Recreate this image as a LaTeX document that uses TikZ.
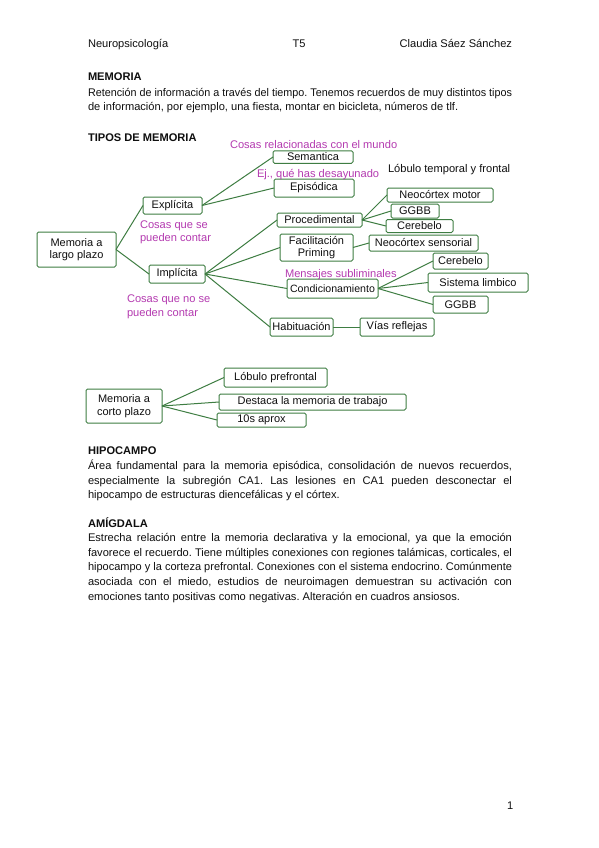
\documentclass[tikz,border=0pt]{standalone}
\usepackage{fontspec}
\usepackage{graphicx}
\setmainfont{Liberation Sans}
\definecolor{boxgreen}{RGB}{62,125,66}
\definecolor{labmag}{RGB}{180,58,176}
\definecolor{txt}{RGB}{15,15,15}
\newsavebox{\jlbox}
\newcommand{\jline}[1]{\sbox{\jlbox}{#1}\ifdim\wd\jlbox>424pt\resizebox{424pt}{\height}{\usebox{\jlbox}}\else\makebox[424pt][s]{#1}\fi}
\begin{document}
\frenchspacing
\begin{tikzpicture}[x=1pt,y=-1pt,
  every node/.style={inner sep=0pt,outer sep=0pt,text=txt},
  txtline/.style={anchor=base west,font=\fontsize{11.1}{12}\selectfont},
  head/.style={anchor=base west,font=\fontsize{11.1}{12}\selectfont\bfseries},
  box/.style={draw=boxgreen,line width=1pt,rounded corners=1.5pt,align=center,font=\fontsize{11}{12.5}\selectfont,inner sep=0pt},
  lab/.style={anchor=base west,text=labmag,font=\fontsize{11.1}{13}\selectfont,align=left},
  con/.style={draw=boxgreen,line width=1pt}]
\useasboundingbox (0,0) rectangle (599,848);
\fill[white] (0,0) rectangle (599,848);
% header
\node[txtline] (h1) at (88,48) {Neuropsicología};
\node[txtline,anchor=base] (h2) at (299,48) {T5};
\node[txtline,anchor=base east] (h3) at (512,48) {Claudia Sáez Sánchez};
% MEMORIA
\node[head] (m0) at (88,81) {MEMORIA};
\node[txtline] (m1) at (88,96) {\jline{Retención de información a través del tiempo. Tenemos recuerdos de muy distintos tipos}};
\node[txtline] (m2) at (88,111) {de información, por ejemplo, una fiesta, montar en bicicleta, números de tlf.};
\node[head] (t0) at (88,141) {TIPOS DE MEMORIA};
% diagram boxes
\node[box,minimum width=79pt,minimum height=35pt] (lp) at (76.5,249.5) {Memoria a\\largo plazo};
\node[box,minimum width=59pt,minimum height=17pt] (ex) at (172.5,205.5) {Explícita};
\node[box,minimum width=56pt,minimum height=18pt] (im) at (177,274) {Implícita};
\node[box,minimum width=80pt,minimum height=12.5pt] (se) at (313,157) {Semantica};
\node[box,minimum width=80pt,minimum height=18pt] (ep) at (314,188) {Episódica};
\node[box,minimum width=85pt,minimum height=14pt] (pr) at (319.5,220) {Procedimental};
\node[box,minimum width=73pt,minimum height=27pt,font=\fontsize{11}{11.5}\selectfont] (fa) at (316.5,247.5) {Facilitación\\Priming};
\node[box,minimum width=91pt,minimum height=19pt,font=\fontsize{10.6}{12}\selectfont] (co) at (332.5,288.5) {Condicionamiento};
\node[box,minimum width=63pt,minimum height=18pt] (ha) at (301.5,327) {Habituación};
\node[box,minimum width=106pt,minimum height=14pt] (nm) at (440,195) {Neocórtex motor};
\node[box,minimum width=48pt,minimum height=14pt] (g1) at (415,211) {GGBB};
\node[box,minimum width=67pt,minimum height=13pt] (c1) at (419.5,226) {Cerebelo};
\node[box,minimum width=109pt,minimum height=16pt] (ns) at (423.5,243) {Neocórtex sensorial};
\node[box,minimum width=55pt,minimum height=16pt] (c2) at (460.5,261) {Cerebelo};
\node[box,minimum width=100pt,minimum height=19pt] (sl) at (478,282.5) {Sistema limbico};
\node[box,minimum width=55pt,minimum height=17pt] (g2) at (460.5,304.5) {GGBB};
\node[box,minimum width=74pt,minimum height=18pt] (vr) at (397,327) {Vías reflejas};
% labels
\node[lab] (l1) at (230,148) {Cosas relacionadas con el mundo};
\node[lab] (l2) at (257,177) {Ej., qué has desayunado};
\node[txtline] (l3) at (388,172) {Lóbulo temporal y frontal};
\node[lab] (l4) at (140,241) {Cosas que se\\pueden contar};
\node[lab,align=left,font=\fontsize{11.1}{14}\selectfont] (l5) at (127,316) {Cosas que no se\\pueden contar};
\node[lab] (l6) at (285,277) {Mensajes subliminales};
% connectors
\draw[con] (lp.east) -- (ex.west);
\draw[con] (lp.east) -- (im.west);
\draw[con] (ex.east) -- (se.west);
\draw[con] (ex.east) -- (ep.west);
\draw[con] (im.east) -- (pr.west);
\draw[con] (im.east) -- (fa.west);
\draw[con] (im.east) -- (co.west);
\draw[con] (im.east) -- (ha.west);
\draw[con] (pr.east) -- (nm.west);
\draw[con] (pr.east) -- (g1.west);
\draw[con] (pr.east) -- (c1.west);
\draw[con] (fa.east) -- (ns.west);
\draw[con] (co.east) -- (c2.west);
\draw[con] (co.east) -- (sl.west);
\draw[con] (co.east) -- (g2.west);
\draw[con] (ha.east) -- (vr.west);
% short term
\node[box,minimum width=76pt,minimum height=34pt] (cp) at (124,406) {Memoria a\\corto plazo};
\node[box,minimum width=103pt,minimum height=19pt] (lpf) at (275.5,377.5) {Lóbulo prefrontal};
\node[box,minimum width=187pt,minimum height=16pt] (dm) at (312.5,402) {Destaca la memoria de trabajo};
\node[box,minimum width=89pt,minimum height=14pt] (ds) at (261.5,420) {10s aprox};
\draw[con] (cp.east) -- (lpf.west);
\draw[con] (cp.east) -- (dm.west);
\draw[con] (cp.east) -- (ds.west);
% HIPOCAMPO
\node[head] (hp0) at (88,454) {HIPOCAMPO};
\node[txtline] (hp1) at (88,469) {\jline{Área fundamental para la memoria episódica, consolidación de nuevos recuerdos,}};
\node[txtline] (hp2) at (88,484) {\jline{especialmente la subregión CA1. Las lesiones en CA1 pueden desconectar el}};
\node[txtline] (hp3) at (88,498) {hipocampo de estructuras diencefálicas y el córtex.};
% AMIGDALA
\node[head] (am0) at (88,527) {AMÍGDALA};
\node[txtline] (am1) at (88,541) {\jline{Estrecha relación entre la memoria declarativa y la emocional, ya que la emoción}};
\node[txtline] (am2) at (88,556) {\jline{favorece el recuerdo. Tiene múltiples conexiones con regiones talámicas, corticales, el}};
\node[txtline] (am3) at (88,570) {\jline{hipocampo y la corteza prefrontal. Conexiones con el sistema endocrino. Comúnmente}};
\node[txtline] (am4) at (88,585) {\jline{asociada con el miedo, estudios de neuroimagen demuestran su activación con}};
\node[txtline] (am5) at (88,600) {emociones tanto positivas como negativas. Alteración en cuadros ansiosos.};
\node[txtline] (pn) at (507,809) {1};
\end{tikzpicture}
\end{document}
